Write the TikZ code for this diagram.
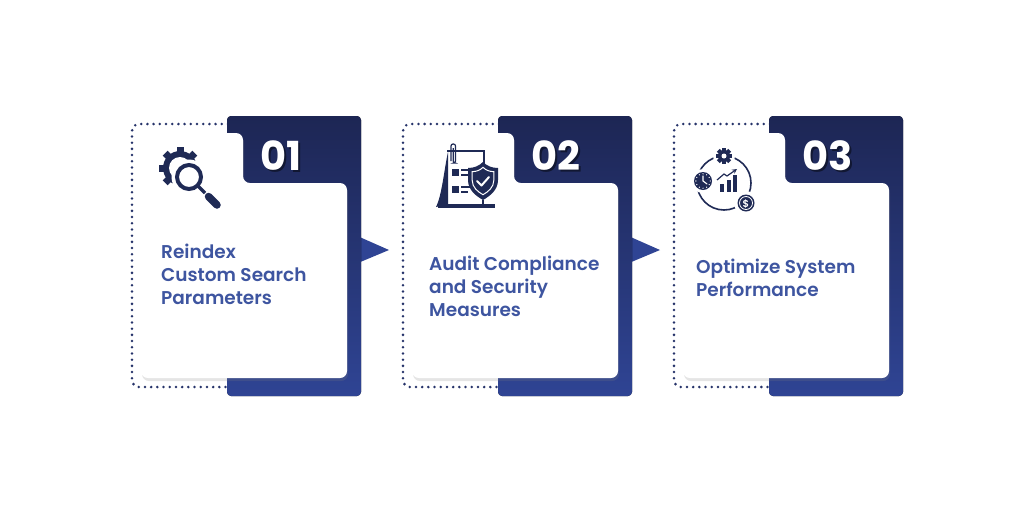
\documentclass[tikz,border=0pt]{standalone}
\usepackage{fontspec}
\newfontfamily\cardfont{Poppins SemiBold}
\newfontfamily\numfont{Poppins Bold}
\usetikzlibrary{shadows}
\definecolor{navy}{HTML}{1D2654}
\definecolor{royal}{HTML}{2F4494}
\definecolor{labelblue}{HTML}{3E55A0}
\definecolor{iconnavy}{HTML}{1F2A55}
\definecolor{dotnavy}{HTML}{26336A}
\tikzset{
  dotline/.style={dotnavy, line width=2.8pt, line cap=round, dash pattern=on 0pt off 6.2pt, rounded corners=7pt},
  tab/.style={top color=navy, bottom color=royal, rounded corners=4pt},
  pointer/.style={fill=royal},
  sheet/.style={fill=white, rounded corners=7pt, drop shadow={shadow xshift=1pt, shadow yshift=-3pt, opacity=0.2}},
  num/.style={anchor=west, text=white, font=\numfont\fontsize{40}{40}\selectfont},
  numshade/.style={anchor=west, text=navy!60!black, font=\numfont\fontsize{40}{40}\selectfont},
  label/.style={anchor=base west, align=left, inner sep=0pt, text=labelblue, font=\cardfont\fontsize{18.5}{23}\selectfont},
  icon/.style={iconnavy}
}
% one card: dotted frame, dark tab, white sheet, number
\def\stepcard#1#2{%
  \begin{scope}[xshift=#1]
    \draw[dotline] (228,124) -- (132,124) -- (132,387) -- (228,387);
    \fill[tab] (227,116) rectangle (361,396);
    \fill[sheet] (141,133) -- (243,133) -- (243,183) -- (347,183) -- (347,378) -- (141,378) -- cycle;
    \node[numshade] at (258.5,157.5) {#2};
    \node[num] (num#2) at (257,156) {#2};
  \end{scope}}

\begin{document}
\begin{tikzpicture}[x=1pt, y=-1pt]
  %%%%% START %%%%%
  \fill[white] (0,0) rectangle (1024,512);
  \useasboundingbox (0,0) rectangle (1024,512);

  \fill[pointer] (346,231) -- (389,250) -- (346,268) -- cycle;
  \fill[pointer] (617,231) -- (660,250) -- (617,268) -- cycle;

  \stepcard{0}{01}
  \stepcard{271}{02}
  \stepcard{542}{03}

  % labels (base = last line)
  \node[label] (reindex) at (161,304) {Reindex\\Custom Search\\Parameters};
  \node[label] (audit) at (429,316) {Audit Compliance\\and Security\\Measures};
  \node[label] (optimize) at (696,296) {Optimize System\\Performance};

  % icon 1: gear and magnifier
  \foreach \a in {0,45,...,315}
    \fill[icon, rotate around={\a:(180,168)}] (176.5,147) rectangle (183.5,153);
  \fill[icon] (180,168) circle (17);
  \fill[white] (180,168) circle (11);
  \fill[white] (189,177) circle (17.5);
  \draw[icon, line width=4] (189,177) circle (12);
  \draw[icon, line width=3.5] (197.5,185.5) -- (205,193);
  \draw[icon, line width=7.5, line cap=round] (208.5,196.5) -- (217,205);

  % icon 2: checklist and shield
  \draw[icon, line width=1.8] (447,151) -- (484,151) -- (484,168);
  \fill[icon] (448,152) -- (448,204) -- (436,207) .. controls (442,195) and (444,170) .. (448,152);
  \draw[icon, line width=1.2, rounded corners=2pt] (451,161) -- (451,144) -- (455.5,144) -- (455.5,163) -- (453.2,163) -- (453.2,148);
  \fill[icon] (452,169) rectangle (459,176);
  \fill[icon] (452,186) rectangle (459,193);
  \draw[icon, line width=1.2] (461,170) -- (470,170) (461,175) -- (468,175) (461,187) -- (470,187) (461,192) -- (468,192);
  \fill[icon] (468,168) -- (468,180) .. controls (468,190) and (476,196) .. (483,200) .. controls (490,196) and (498,190) .. (498,180) -- (498,168) .. controls (492,168) and (487,166) .. (483,162) .. controls (479,166) and (474,168) .. (468,168) -- cycle;
  \draw[white, line width=1, scale around={0.72:(483,181)}] (468,168) -- (468,180) .. controls (468,190) and (476,196) .. (483,200) .. controls (490,196) and (498,190) .. (498,180) -- (498,168) .. controls (492,168) and (487,166) .. (483,162) .. controls (479,166) and (474,168) .. (468,168) -- cycle;
  \draw[white, line width=2, line cap=round, line join=round] (477,181) -- (481.5,185.5) -- (489,177);
  \draw[icon, line width=1.2] (483,200) -- (483,205);
  \draw[icon, line width=3.5] (438,206) -- (495,206);

  % icon 3: cycle with gear, clock, chart and coin
  \draw[icon, line width=1.6] (724,183) circle (27);
  \fill[white] (724,156) circle (11);
  \fill[white] (703,181) circle (12);
  \fill[white] (746,203) circle (12);
  \fill[white] (737,171) circle (4);
  \foreach \a in {0,45,...,315}
    \fill[icon, rotate around={\a:(724,156)}] (722,148) rectangle (726,151);
  \fill[icon] (724,156) circle (6);
  \fill[white] (724,156) circle (2.5);
  \fill[icon] (703,181) circle (9);
  \foreach \a in {0,30,...,330}
    \fill[white, rotate around={\a:(703,181)}] (703,173.8) circle (0.7);
  \draw[white, line width=1.1, line cap=round] (703,176) -- (703,181) -- (707,184);
  \fill[icon] (746,203) circle (8.5);
  \draw[white, line width=0.8] (746,203) circle (6.5);
  \node[white, font=\cardfont\fontsize{10}{10}\selectfont] (dollar) at (746,203.5) {\$};
  \fill[icon] (720,184) rectangle (724,192);
  \fill[icon] (726.5,180) rectangle (730.5,192);
  \fill[icon] (733,175) rectangle (737,192);
  \draw[icon, line width=1.2, -stealth] (717,180) -- (724,174) -- (727,176) -- (737,169);

  %%%%% END %%%%%
\end{tikzpicture}
\end{document}
